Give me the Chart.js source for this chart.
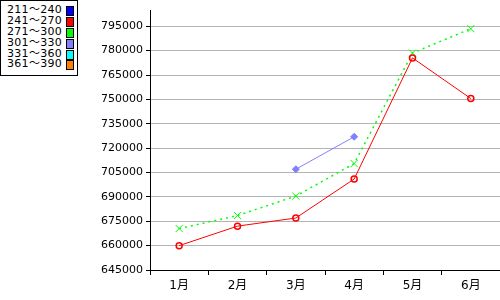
<!DOCTYPE html>
<html>
<head>
<meta charset="utf-8">
<script src="https://cdn.jsdelivr.net/npm/chart.js@4"></script>
<style>
  html, body { margin: 0; padding: 0; background: #fff; }
  #wrap { position: relative; width: 500px; height: 300px; }
  #legend {
    position: absolute; left: 0; top: 0; width: 76px; height: 70px;
    border: 1px solid #000; background: #fff; padding-top: 4px; box-sizing: content-box;
    font: 11px 'DejaVu Sans', 'Noto Sans CJK JP', sans-serif; color: #000;
  }
  #legend div { position: relative; height: 10.9px; line-height: 10.9px; padding-left: 6px; white-space: nowrap; letter-spacing: 0.3px; }
  #legend span {
    position: absolute; left: 65px; top: 1px; width: 6px; height: 8px; border: 1px solid #000;
  }
</style>
</head>
<body>
<div id="wrap">
  <canvas id="chart" width="500" height="300"></canvas>
  <div id="legend"></div>
</div>
<script>
  // カテゴリ・系列
  const months = ['1月', '2月', '3月', '4月', '5月', '6月'];
  const legendLabels = ['211～240', '241～270', '271～300', '301～330', '331～360', '361～390'];
  const s241 = [660000, 672000, 677000, 701000, 775500, 750500];
  const s271 = [670500, 678500, 690500, 710500, 778500, 793500];
  const s301 = [null, null, 707000, 727000, null, null];
  const yTicks = [645000, 660000, 675000, 690000, 705000, 720000, 735000, 750000, 765000, 780000, 795000];

  const COLORS = ['#0000ff', '#ff0000', '#00ff00', '#8080ff', '#00ffff', '#ff8000'];
  const FONT = "'DejaVu Sans', 'Noto Sans CJK JP', sans-serif";

  // 凡例 (HTML)
  const lg = document.getElementById('legend');
  legendLabels.forEach((t, i) => {
    const row = document.createElement('div');
    row.textContent = t;
    const sw = document.createElement('span');
    sw.style.background = COLORS[i];
    row.appendChild(sw);
    lg.appendChild(row);
  });

  Chart.defaults.font.family = FONT;
  Chart.defaults.font.size = 11;
  Chart.defaults.color = '#000';

  new Chart(document.getElementById('chart').getContext('2d'), {
    type: 'line',
    data: {
      labels: months,
      datasets: [
        {
          label: legendLabels[1], data: s241,
          borderColor: COLORS[1], borderWidth: 1,
          pointStyle: 'circle', pointRadius: 3, pointBorderWidth: 1.5,
          pointBorderColor: COLORS[1], pointBackgroundColor: 'rgba(0,0,0,0)',
          tension: 0
        },
        {
          label: legendLabels[2], data: s271,
          borderColor: COLORS[2], borderWidth: 1.5, borderDash: [2, 4],
          pointStyle: 'crossRot', pointRadius: 5, pointBorderWidth: 1,
          pointBorderColor: COLORS[2],
          tension: 0
        },
        {
          label: legendLabels[3], data: s301,
          borderColor: COLORS[3], borderWidth: 1,
          pointStyle: 'rectRot', pointRadius: 3.5, pointBorderWidth: 1,
          pointBorderColor: COLORS[3], pointBackgroundColor: COLORS[3],
          tension: 0
        }
      ]
    },
    options: {
      responsive: false,
      animation: false,
      layout: { autoPadding: false, padding: { top: 10, right: 0, left: 0, bottom: 0 } },
      plugins: { legend: { display: false }, tooltip: { enabled: false } },
      scales: {
        x: {
          offset: true,
          border: { color: '#000', width: 1 },
          grid: { offset: true, drawOnChartArea: false, tickLength: 5, tickColor: '#000', lineWidth: 1 },
          ticks: { padding: 4, font: { size: 12 } },
          afterFit: (s) => { s.height = 30; }
        },
        y: {
          min: 645000, max: 805000,
          border: { color: '#000', width: 1 },
          grid: { color: '#b4b4b4', tickLength: 4, tickColor: '#000', lineWidth: 1 },
          ticks: { padding: 3, font: { size: 11 }, callback: (v) => String(v) },
          afterBuildTicks: (s) => { s.ticks = yTicks.map(v => ({ value: v })); },
          afterFit: (s) => { s.width = 150; }
        }
      }
    }
  });
</script>
</body>
</html>
